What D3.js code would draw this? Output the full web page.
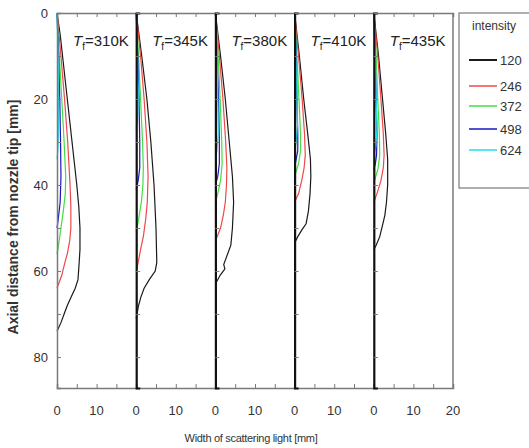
<!DOCTYPE html>
<html>
<head>
<meta charset="utf-8">
<script src="https://cdn.jsdelivr.net/npm/d3@7"></script>
<style>
  body { margin: 0; background: #fff; }
  svg { font-family: "Liberation Sans", Arial, sans-serif; }
</style>
</head>
<body>
<div id="chart"></div>
<script>
// flame temperatures (one panel each)
const temps = ["310K", "345K", "380K", "410K", "435K"];
const intensities = ["120", "246", "372", "498", "624"];
const colorMap = {
  "120": "#1a1a1a",
  "246": "#f04848",
  "372": "#44dd44",
  "498": "#1818c0",
  "624": "#22dcf0",
};

// [axial distance mm, width mm], series order = intensities
const panel310 = [
  [[0,0],[5,0.8],[10,1.4],[20,2.6],[30,3.8],[40,5.0],[45,5.5],[50,5.8],[55,5.8],[58,5.6],[62,5.3],[64,4.6],[66,3.6],[68,2.6],[70,1.8],[72,1.0],[74,0]],
  [[0,0],[10,1.0],[20,1.9],[30,2.7],[40,3.3],[45,3.5],[50,3.5],[53,3.2],[56,2.6],[58,2.0],[61,1.2],[64,0]],
  [[0,0],[10,0.6],[20,1.2],[30,1.8],[38,2.2],[42,2.1],[46,1.6],[50,1.0],[54,0.4],[56,0]],
  [[0,0],[10,0.4],[20,0.7],[30,0.9],[38,1.0],[44,0.8],[48,0.3],[50,0]],
  [[0,0],[10,0.3],[20,0.4],[28,0.4],[32,0.2],[34,0]],
];
const panel345 = [
  [[0,0],[10,1.4],[20,2.7],[30,3.7],[40,4.5],[50,5.0],[58,5.2],[60,4.8],[62,3.3],[64,2.0],[66,1.2],[68,0.6],[71,0]],
  [[0,0],[10,1.1],[20,2.0],[30,2.7],[38,3.0],[44,2.8],[48,2.4],[52,1.8],[55,1.1],[58,0.5],[60,0]],
  [[0,0],[10,0.6],[20,1.1],[30,1.6],[36,1.8],[40,1.7],[44,1.3],[48,0.6],[51,0]],
  [[0,0],[10,0.4],[20,0.7],[30,0.9],[36,0.9],[39,0.5],[41,0]],
  [[0,0],[10,0.3],[18,0.5],[24,0.4],[27,0]],
];
const panel380 = [
  [[0,0],[10,1.3],[20,2.5],[30,3.5],[38,4.3],[44,4.6],[50,4.3],[54,3.9],[57,2.7],[58.5,2.1],[59.5,2.4],[61,1.2],[63,0]],
  [[0,0],[10,1.0],[20,1.9],[30,2.6],[36,2.9],[40,2.8],[44,2.5],[47,2.0],[50,1.3],[53,0]],
  [[0,0],[10,0.7],[20,1.2],[30,1.6],[35,1.7],[39,1.3],[42,0.6],[44,0]],
  [[0,0],[10,0.4],[20,0.8],[30,1.0],[35,1.0],[38,0.6],[40,0]],
  [[0,0],[10,0.4],[20,0.6],[28,0.7],[32,0.4],[34,0]],
];
const panel410 = [
  [[0,0],[10,1.2],[20,2.3],[28,3.3],[34,4.0],[38,4.1],[42,3.9],[46,3.5],[49,2.9],[50.5,1.8],[52,0.8],[53.5,0]],
  [[0,0],[10,1.0],[20,1.9],[28,2.5],[33,2.7],[36,2.4],[39,1.8],[42,1.0],[44,0]],
  [[0,0],[10,0.6],[20,1.1],[28,1.5],[32,1.5],[35,1.0],[38,0]],
  [[0,0],[10,0.4],[20,0.6],[28,0.8],[32,0.8],[34,0.4],[36,0]],
  [[0,0],[10,0.4],[20,0.6],[26,0.7],[30,0.4],[32,0]],
];
const panel435 = [
  [[0,0],[10,1.2],[20,2.2],[28,3.0],[34,3.5],[40,3.5],[44,3.2],[47,2.8],[49,2.3],[52,1.5],[54,0.6],[55,0]],
  [[0,0],[10,1.0],[20,1.8],[28,2.4],[33,2.6],[36,2.4],[39,1.8],[42,0.8],[44,0]],
  [[0,0],[10,0.6],[20,1.0],[28,1.4],[33,1.5],[36,1.1],[38,0.5],[39.5,0]],
  [[0,0],[10,0.3],[20,0.6],[28,0.8],[33,0.7],[35,0.4],[36.5,0]],
  [[0,0],[10,0.4],[20,0.6],[27,0.8],[31,0.5],[33,0]],
];
const panels = [panel310, panel345, panel380, panel410, panel435];

const xTicks = [0, 5, 10, 15];
const yTicks = [0, 10, 20, 30, 40, 50, 60, 70, 80];

const width = 529, height = 448;
const margin = { top: 13, left: 57, right: 76, bottom: 60 };
const axisColor = "#7a7a7a";
const textColor = "#333";

const svg = d3.select("#chart").append("svg")
  .attr("width", width)
  .attr("height", height);

const panelScale = d3.scaleBand()
  .domain(temps)
  .range([margin.left, width - margin.right])
  .padding(0);

const yScale = d3.scaleLinear()
  .domain([0, 87.2])
  .range([margin.top, height - margin.bottom]);

const y0 = yScale.range()[0], y1 = yScale.range()[1];

temps.forEach(function (t, i) {
  const px = panelScale(t);
  const xScale = d3.scaleLinear()
    .domain([0, 20])
    .range([px, px + panelScale.bandwidth()]);

  const line = d3.line()
    .x((d) => xScale(d[1]))
    .y((d) => yScale(d[0]));

  // top ticks (inward)
  const top = svg.append("g")
    .attr("transform", "translate(0," + y0 + ")")
    .call(d3.axisTop(xScale).tickValues(xTicks.slice(1)).tickSize(-4).tickFormat(""));
  top.select(".domain").attr("stroke", axisColor).attr("stroke-width", 1.5);
  top.selectAll(".tick line").attr("stroke", axisColor);

  // bottom ticks (inward)
  const bottom = svg.append("g")
    .attr("transform", "translate(0," + y1 + ")")
    .call(d3.axisBottom(xScale).tickValues(xTicks.slice(1)).tickSize(-4).tickFormat(""));
  bottom.select(".domain").attr("stroke", axisColor).attr("stroke-width", 1.5);
  bottom.selectAll(".tick line").attr("stroke", axisColor);

  // tick labels
  const labels = i === temps.length - 1 ? [0, 10, 20] : [0, 10];
  svg.append("g").selectAll("text")
    .data(labels)
    .enter()
    .append("text")
    .attr("x", (d) => xScale(d))
    .attr("y", y1 + 27)
    .attr("text-anchor", "middle")
    .attr("fill", textColor)
    .style("font-size", "13px")
    .text((d) => d);

  // curves
  svg.append("g").selectAll("path")
    .data(panels[i])
    .enter()
    .append("path")
    .attr("d", line)
    .attr("fill", "none")
    .attr("stroke", (d, k) => colorMap[intensities[k]])
    .attr("stroke-width", 1.2);

  // left edge of the panel: axis for the first, zero line for the rest
  const left = svg.append("g")
    .attr("transform", "translate(" + px + ",0)")
    .call(d3.axisLeft(yScale).tickValues(yTicks).tickSize(-4).tickPadding(9)
      .tickFormat((d) => (i === 0 && d % 20 === 0 ? d : "")));
  left.select(".domain")
    .attr("stroke", i === 0 ? axisColor : "#111")
    .attr("stroke-width", i === 0 ? 1.5 : 2.2);
  left.selectAll(".tick line").attr("stroke", axisColor);
  left.selectAll(".tick text")
    .attr("fill", textColor)
    .style("font-size", "13px")
    .style("font-family", "'Liberation Sans', Arial, sans-serif");

  // panel title
  const title = svg.append("text")
    .attr("x", px + 16)
    .attr("y", y0 + 33)
    .attr("fill", "#222")
    .style("font-size", "15px");
  title.append("tspan").style("font-style", "italic").text("T");
  title.append("tspan").attr("dy", 4).style("font-size", "10px").text("f");
  title.append("tspan").attr("dy", -4).text("=" + t);
});

// right frame
const xEnd = panelScale.range()[1];
svg.append("line")
  .attr("x1", xEnd).attr("x2", xEnd)
  .attr("y1", y0).attr("y2", y1)
  .attr("stroke", axisColor)
  .attr("stroke-width", 1.5);

// axis titles
svg.append("text")
  .attr("transform", "translate(18," + 217 + ") rotate(-90)")
  .attr("text-anchor", "middle")
  .attr("fill", textColor)
  .style("font-size", "14px")
  .style("font-weight", "bold")
  .text("Axial distance from nozzle tip [mm]");

svg.append("text")
  .attr("x", 251)
  .attr("y", 442)
  .attr("text-anchor", "middle")
  .attr("fill", textColor)
  .style("font-size", "11px")
  .style("letter-spacing", "-0.3px")
  .text("Width of scattering light [mm]");

// legend
const legend = svg.append("g");
legend.append("rect")
  .attr("x", 459).attr("y", 13)
  .attr("width", 80).attr("height", 175)
  .attr("fill", "#fff")
  .attr("stroke", axisColor)
  .attr("stroke-width", 1.2);
legend.append("text")
  .attr("x", 494).attr("y", 30)
  .attr("text-anchor", "middle")
  .attr("fill", textColor)
  .style("font-size", "12px")
  .text("intensity");

const legendY = [60, 86, 106, 129, 150];
intensities.forEach(function (s, k) {
  legend.append("line")
    .attr("x1", 469).attr("x2", 497)
    .attr("y1", legendY[k]).attr("y2", legendY[k])
    .attr("stroke", colorMap[s])
    .attr("stroke-width", k === 0 ? 2 : 1.5);
  legend.append("text")
    .attr("x", 500).attr("y", legendY[k] + 4.5)
    .attr("fill", textColor)
    .style("font-size", "13px")
    .text(s);
});
</script>
</body>
</html>
